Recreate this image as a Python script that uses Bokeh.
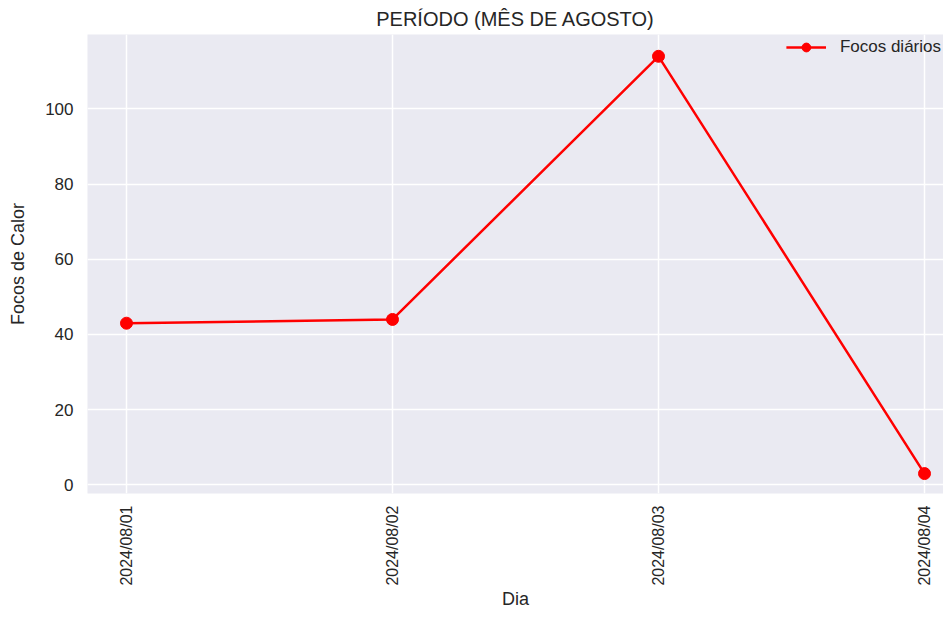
import math
from bokeh.plotting import figure
from bokeh.models import Range1d, FixedTicker, Title
from bokeh.embed import file_html
from bokeh.resources import INLINE

dias = ["2024/08/01", "2024/08/02", "2024/08/03", "2024/08/04"]
focos = [43, 44, 114, 3]
y_ticks = [0, 20, 40, 60, 80, 100]
titulo = "PERÍODO (MÊS DE AGOSTO)"
serie = "Focos diários"

xs = list(range(len(dias)))

p = figure(width=943, height=611, output_backend="svg", toolbar_location=None,
           x_range=Range1d(-0.1466, 3.0714), y_range=Range1d(-2.3, 119.8),
           min_border_left=87, min_border_right=0, min_border_bottom=100, min_border_top=0)

p.title = Title(text=titulo, align="center", text_font="Liberation Sans",
                text_font_size="20px", text_font_style="normal", text_color="#262626")

p.background_fill_color = "#EAEAF2"
p.border_fill_color = "white"
p.outline_line_color = None

p.line(xs, focos, line_color="#FF0000", line_width=2.5, legend_label=serie)
p.scatter(xs, focos, size=12, fill_color="#FF0000", line_color="#FF0000", legend_label=serie)

p.xaxis.ticker = FixedTicker(ticks=xs)
p.xaxis.major_label_overrides = {i: d for i, d in enumerate(dias)}
p.xaxis.major_label_orientation = math.pi / 2
p.yaxis.ticker = FixedTicker(ticks=y_ticks)

for ax in (p.xaxis, p.yaxis):
    ax.axis_line_color = None
    ax.major_tick_line_color = None
    ax.minor_tick_line_color = None
    ax.major_tick_out = 0
    ax.major_tick_in = 0
    ax.minor_tick_out = 0
    ax.minor_tick_in = 0
    ax.major_label_text_font = "Liberation Sans"
    ax.major_label_text_color = "#262626"
    ax.axis_label_text_font = "Liberation Sans"
    ax.axis_label_text_font_size = "18px"
    ax.axis_label_text_font_style = "normal"
    ax.axis_label_text_color = "#262626"

p.xaxis.major_label_standoff = 12
p.yaxis.major_label_standoff = 14
p.xaxis.major_label_text_font_size = "16px"
p.yaxis.major_label_text_font_size = "17px"
p.xaxis.axis_label = "Dia"
p.yaxis.axis_label = "Focos de Calor"
p.xaxis.axis_label_standoff = 0
p.yaxis.axis_label_standoff = 14

p.xgrid.grid_line_color = "white"
p.ygrid.grid_line_color = "white"
p.xgrid.grid_line_width = 1.5
p.ygrid.grid_line_width = 1.5

p.legend.location = "top_right"
p.legend.background_fill_alpha = 0
p.legend.border_line_color = None
p.legend.label_text_font = "Liberation Sans"
p.legend.label_text_font_size = "17px"
p.legend.label_text_color = "#262626"
p.legend.glyph_width = 40
p.legend.glyph_height = 22
p.legend.label_standoff = 14
p.legend.margin = 2
p.legend.padding = 4

open("out.html", "w").write(file_html(p, INLINE))
